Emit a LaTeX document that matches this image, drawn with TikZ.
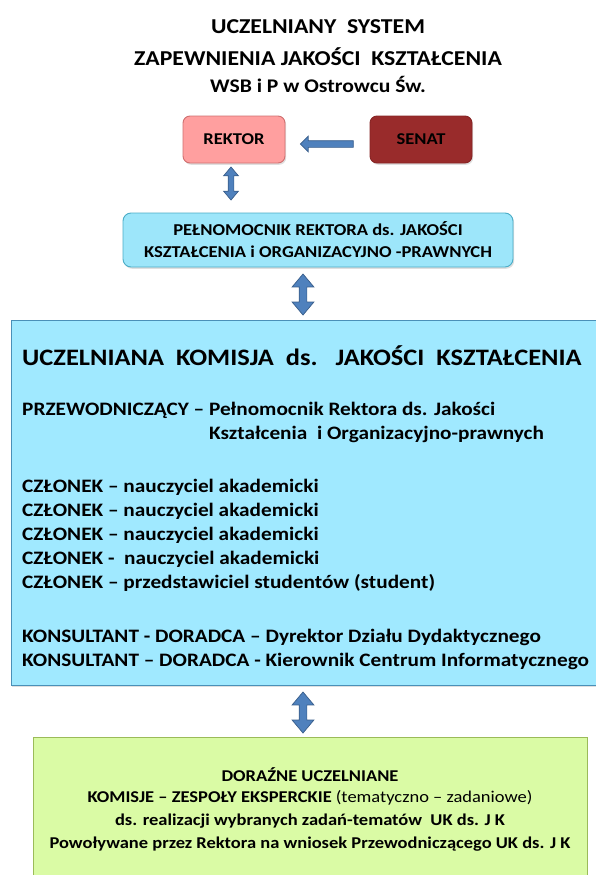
\documentclass[tikz,border=0pt]{standalone}
\usepackage{fontspec}
\setmainfont{Carlito}[FakeStretch=1.12]
\usetikzlibrary{shapes.arrows,shadows}
\definecolor{rekfill}{HTML}{FF9F9F}
\definecolor{rekdraw}{HTML}{CF6F6F}
\definecolor{senfill}{HTML}{992B2B}
\definecolor{sendraw}{HTML}{862424}
\definecolor{arrfill}{HTML}{4F81BD}
\definecolor{arrdraw}{HTML}{385D8A}
\definecolor{pelfill}{HTML}{9DE6FA}
\definecolor{peldraw}{HTML}{4BACC6}
\definecolor{bigfill}{HTML}{A0E9FF}
\definecolor{bigdraw}{HTML}{4A90B8}
\definecolor{grnfill}{HTML}{DAFBA5}
\definecolor{grndraw}{HTML}{9BBB59}
\tikzset{
  box/.style={rectangle, inner sep=0pt, line width=0.9pt,
    drop shadow={shadow xshift=1.2pt, shadow yshift=-1.8pt, opacity=0.25}},
  dblarrow/.style={double arrow, draw=arrdraw, fill=arrfill, line width=0.7pt,
    double arrow tip angle=80, rotate=90},
  ttl/.style={font=\bfseries, inner sep=0pt},
  line/.style={anchor=west, inner sep=0pt, font=\fontsize{19}{22}\selectfont\bfseries},
  gline/.style={inner sep=0pt, font=\fontsize{16.5}{20}\selectfont\bfseries},
}
\begin{document}
\begin{tikzpicture}[x=1pt,y=-1pt]
\useasboundingbox (0,0) rectangle (595,875);
% title
\node[ttl, font=\fontsize{21.2}{24}\selectfont\bfseries] (t1) at (318,27) {UCZELNIANY\ \ SYSTEM};
\node[ttl, font=\fontsize{21.2}{24}\selectfont\bfseries] (t2) at (318,57) {ZAPEWNIENIA JAKOŚCI\ \ KSZTAŁCENIA};
\node[ttl, font=\fontsize{19.3}{22}\selectfont\bfseries] (t3) at (318,84) {WSB i P w Ostrowcu Św.};
% REKTOR, SENAT
\node[box, fill=rekfill, draw=rekdraw, rounded corners=7pt, minimum width=102pt, minimum height=47pt,
  font=\fontsize{16.5}{20}\selectfont\bfseries] (rektor) at (234,139.5) {REKTOR};
\node[box, fill=senfill, draw=sendraw, rounded corners=7pt, minimum width=102pt, minimum height=47pt,
  font=\fontsize{16.5}{20}\selectfont\bfseries] (senat) at (421,139.5) {SENAT};
\node[single arrow, draw=arrdraw, fill=arrfill, line width=0.7pt, inner sep=3pt,
  minimum height=53pt, single arrow head extend=4.5pt, single arrow tip angle=90,
  shape border rotate=180] (a0) at (328.5,144) {};
% Pelnomocnik
\node[box, fill=pelfill, draw=peldraw, rounded corners=8pt, minimum width=390pt, minimum height=54pt,
  align=center, font=\fontsize{16.6}{22}\selectfont\bfseries] (pel) at (318,240)
  {PEŁNOMOCNIK REKTORA ds. JAKOŚCI\\KSZTAŁCENIA i ORGANIZACYJNO -PRAWNYCH};
\node[dblarrow, inner sep=2.5pt, minimum height=33pt, double arrow head extend=4.5pt] (a1) at (231,183.5) {};
\node[dblarrow, inner sep=3.5pt, minimum height=41pt, double arrow head extend=7pt] (a2) at (303,294.5) {};
% big box
\node[box, fill=bigfill, draw=bigdraw, minimum width=594pt, minimum height=365pt] (big) at (308,502.5) {};
\node[line, font=\fontsize{23.6}{26}\selectfont\bfseries] (h) at (22,356)
  {UCZELNIANA\ \ KOMISJA\ \ ds.\ \ \ JAKOŚCI\ \ KSZTAŁCENIA};
\node[line] (p1) at (22,410) {PRZEWODNICZĄCY – Pełnomocnik Rektora ds. Jakości};
\node[line] (p2) at (22,434) {\phantom{PRZEWODNICZĄCY – }Kształcenia\ \ i Organizacyjno-prawnych};
\node[line] (c1) at (22,487) {CZŁONEK – nauczyciel akademicki};
\node[line] (c2) at (22,511) {CZŁONEK – nauczyciel akademicki};
\node[line] (c3) at (22,535) {CZŁONEK – nauczyciel akademicki};
\node[line] (c4) at (22,559) {CZŁONEK -\ \ nauczyciel akademicki};
\node[line] (c5) at (22,583) {CZŁONEK – przedstawiciel studentów (student)};
\node[line] (k1) at (22,637) {KONSULTANT - DORADCA – Dyrektor Działu Dydaktycznego};
\node[line] (k2) at (22,661) {KONSULTANT – DORADCA - Kierownik Centrum Informatycznego};
% arrow to green
\node[dblarrow, inner sep=3.5pt, minimum height=41pt, double arrow head extend=7pt] (a3) at (303,712.5) {};
% green box
\node[box, fill=grnfill, draw=grndraw, minimum width=554pt, minimum height=150pt] (grn) at (310,812) {};
\node[gline] (g1) at (310,775) {DORAŹNE UCZELNIANE};
\node[gline] (g2) at (310,798) {KOMISJE – ZESPOŁY EKSPERCKIE \mdseries(tematyczno – zadaniowe)};
\node[gline] (g3) at (310,821) {ds. realizacji wybranych zadań-tematów\ \ UK ds. J K};
\node[gline] (g4) at (310,844) {Powoływane przez Rektora na wniosek Przewodniczącego UK ds. J K};
\end{tikzpicture}
\end{document}
